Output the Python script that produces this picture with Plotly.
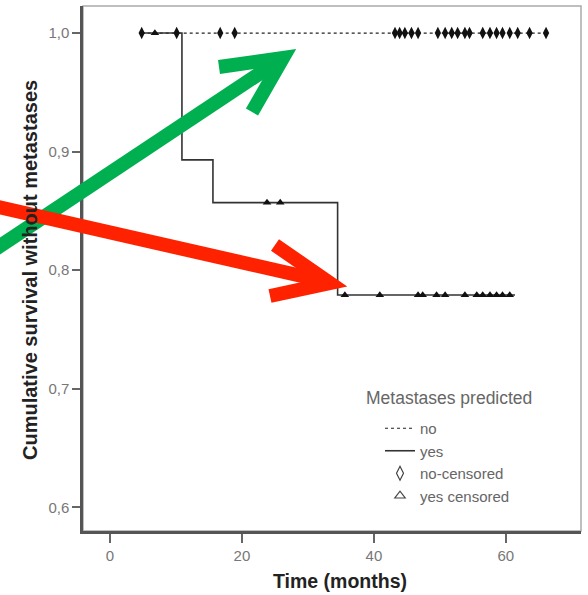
import plotly.graph_objects as go

# ---------------- data ----------------
no_curve_t = [4.8, 66.1]
no_curve_s = [1.0, 1.0]
no_censor_t = [4.8, 10.1, 16.7, 18.9, 43.2, 43.9, 44.7, 45.7, 46.7, 49.7, 50.8,
               51.8, 52.7, 53.8, 54.5, 56.5, 57.6, 58.6, 59.5, 60.6, 61.8, 63.6, 66.1]

yes_step_t = [4.8, 10.9, 15.6, 34.5, 61.4]
yes_step_s = [1.0, 0.893, 0.857, 0.779, 0.779]
yes_censor_t = [6.8, 23.8, 25.8, 35.6, 40.9, 46.7, 47.4, 49.5, 50.8, 53.8,
                55.6, 56.5, 57.6, 58.6, 59.5, 60.6]

x_ticks = [0, 20, 40, 60]
y_ticks = [0.6, 0.7, 0.8, 0.9, 1.0]
y_tick_text = ["0,6", "0,7", "0,8", "0,9", "1,0"]


def surv_at(t):
    s = yes_step_s[0]
    for tt, ss in zip(yes_step_t, yes_step_s):
        if tt <= t:
            s = ss
    return s


yes_censor_s = [surv_at(t) for t in yes_censor_t]

W, H = 588, 595
ML, MR, MT, MB = 83, 7, 6, 64
PW, PH = W - ML - MR, H - MT - MB


def px(x):
    return (x - ML) / PW


def py(y):
    return (H - MB - y) / PH


FONT = "Liberation Sans, Arial, sans-serif"

fig = go.Figure()

fig.add_trace(go.Scatter(x=no_curve_t, y=no_curve_s, mode="lines", name="no",
                         line=dict(color="#222", width=1.2, dash="dot")))
fig.add_trace(go.Scatter(x=yes_step_t, y=yes_step_s, mode="lines", name="yes",
                         line=dict(color="#333", width=1.6, shape="hv")))
fig.add_trace(go.Scatter(x=no_censor_t, y=[1.0] * len(no_censor_t), mode="markers",
                         showlegend=False,
                         marker=dict(symbol="diamond-tall", size=9, color="#111")))
fig.add_trace(go.Scatter(x=yes_censor_t, y=yes_censor_s, mode="markers",
                         showlegend=False,
                         marker=dict(symbol="triangle-up", size=7.5, color="#111")))
# legend-only entries (hollow symbols, as in the reference legend)
fig.add_trace(go.Scatter(x=[None], y=[None], mode="markers", name="no-censored",
                         marker=dict(symbol="diamond-tall-open", size=10, color="#444",
                                     line=dict(width=1.2))))
fig.add_trace(go.Scatter(x=[None], y=[None], mode="markers", name="yes censored",
                         marker=dict(symbol="triangle-up-open", size=9, color="#444",
                                     line=dict(width=1.2))))

fig.update_xaxes(range=[-4.1, 71.4], tickvals=x_ticks, ticktext=[str(v) for v in x_ticks],
                 showgrid=False, zeroline=False, showline=True, linecolor="#555", linewidth=2.5,
                 ticks="outside", ticklen=9, tickcolor="#666", tickwidth=1.5,
                 tickfont=dict(family=FONT, size=15, color="#777"))
fig.update_yaxes(range=[0.58, 1.0228], tickvals=y_ticks, ticktext=y_tick_text,
                 showgrid=False, zeroline=False, showline=True, linecolor="#555", linewidth=2.5,
                 ticks="outside", ticklen=8, tickcolor="#666", tickwidth=1.5,
                 tickfont=dict(family=FONT, size=15, color="#777"))

shapes = [
    dict(type="rect", xref="paper", yref="paper", x0=0, x1=1, y0=0, y1=1,
         line=dict(color="#aaa", width=1.5), layer="below"),
]
green = "#00B050"
red = "#FF2200"
# green arrow
shapes.append(dict(type="path", xref="paper", yref="paper", layer="above",
                   path=f"M {px(-6)},{py(250)} L {px(283)},{py(58)}",
                   line=dict(color=green, width=14)))
shapes.append(dict(type="path", xref="paper", yref="paper", layer="above",
                   path=f"M {px(219)},{py(67)} L {px(283)},{py(58)} L {px(252)},{py(112)}",
                   line=dict(color=green, width=14)))
# red arrow
shapes.append(dict(type="path", xref="paper", yref="paper", layer="above",
                   path=f"M {px(-6)},{py(206)} L {px(328)},{py(282)}",
                   line=dict(color=red, width=14)))
shapes.append(dict(type="path", xref="paper", yref="paper", layer="above",
                   path=f"M {px(275)},{py(245)} L {px(330)},{py(283)} L {px(270)},{py(296)}",
                   line=dict(color=red, width=14)))

annotations = [
    dict(text="<b>Cumulative survival without metastases</b>", xref="paper", yref="paper",
         x=px(30), y=py(270), textangle=-90, showarrow=False,
         font=dict(family=FONT, size=20, color="#222"), xanchor="center", yanchor="middle"),
    dict(text="<b>Time (months)</b>", xref="paper", yref="paper",
         x=px(340), y=py(581), showarrow=False,
         font=dict(family=FONT, size=19.5, color="#222"), xanchor="center", yanchor="middle"),
    dict(text="Metastases predicted", xref="paper", yref="paper",
         x=px(364), y=py(398), showarrow=False, xanchor="left", yanchor="middle",
         font=dict(family=FONT, size=17.5, color="#666")),
]

fig.update_layout(
    width=W, height=H,
    margin=dict(l=ML, r=MR, t=MT, b=MB),
    paper_bgcolor="white", plot_bgcolor="white",
    shapes=shapes, annotations=annotations,
    showlegend=True,
    legend=dict(x=px(380), y=py(412), xanchor="left", yanchor="top",
                bgcolor="rgba(0,0,0,0)", font=dict(family=FONT, size=15, color="#666"),
                itemwidth=30, tracegroupgap=0),
)

fig.write_html("out.html")
